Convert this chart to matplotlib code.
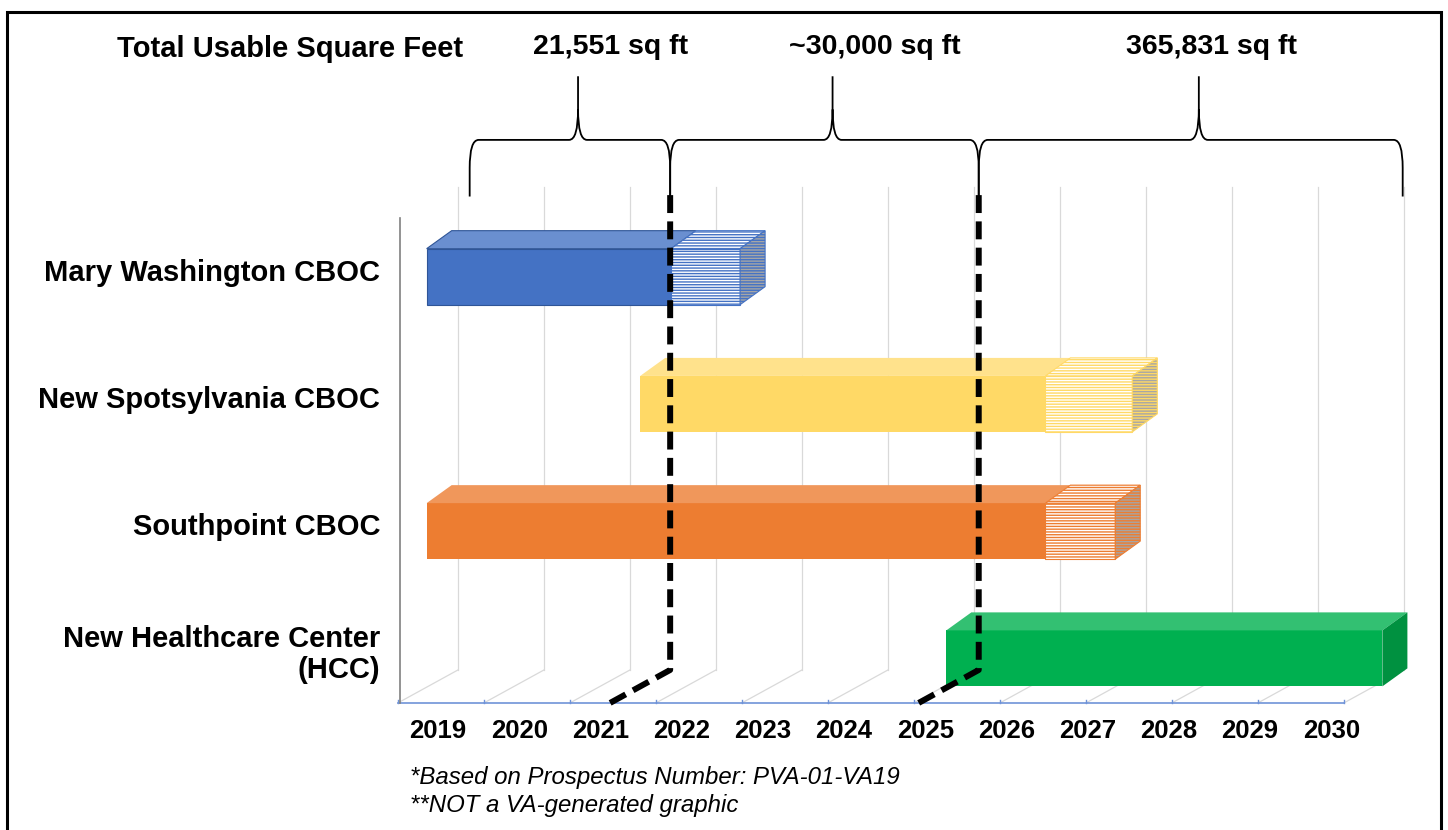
import numpy as np
import matplotlib.pyplot as plt
from matplotlib.patches import Polygon, Rectangle, PathPatch
from matplotlib.path import Path

plt.rcParams['font.family'] = ['Liberation Sans', 'DejaVu Sans']
plt.rcParams['hatch.linewidth'] = 1.0

# 数据：项目及时间段（年份）
projects = ['Mary Washington CBOC', 'New Spotsylvania CBOC', 'Southpoint CBOC',
            'New Healthcare Center\n(HCC)']
start = [2018.86, 2021.49, 2018.86, 2025.26]
solid_end = [2021.87, 2026.48, 2026.48, 2030.63]
hatch_end = [2022.72, 2027.55, 2027.34, 2030.63]
years = list(range(2019, 2031))
milestones = [2021.12, 2024.92]
sqft_labels = ['21,551 sq ft', '~30,000 sq ft', '365,831 sq ft']

# 颜色
front_c = ['#4472C4', '#FFD966', '#ED7D31', '#00B050']
top_c = ['#6A8FD0', '#FFE28C', '#F0975B', '#33C072']
side_c = ['#2F5597', '#BF9F40', '#B05A20', '#009140']
edge_c = ['#2F5597', 'none', 'none', 'none']

fig = plt.figure(figsize=(14.48, 8.30), dpi=100)
ax = fig.add_axes([0, 0, 1, 1])
ax.set_xlim(2013.606, 2031.438)
ax.set_ylim(4.3489, -2.1745)
ax.axis('off')

# 3D 效果的深度
fx, fy = 0.739, -0.259   # 地面深度
bx, by = 0.308, -0.1415  # 条形深度
h = 0.22
floor_y = 3.350
grid_top = -0.705
grid_x = np.linspace(2018.507, 2030.157, 12)

# 背景网格和坐标轴
for gx in grid_x:
    ax.plot([gx, gx + fx], [floor_y, floor_y + fy], color='#D9D9D9', lw=0.9, zorder=1)
    ax.plot([gx + fx, gx + fx], [floor_y + fy, grid_top], color='#D9D9D9', lw=0.9, zorder=1)
    ax.plot([gx, gx], [floor_y, floor_y - 0.025], color='#6F93D8', lw=1, zorder=2)
ax.plot([grid_x[0], grid_x[-1]], [floor_y, floor_y], color='#6F93D8', lw=1.2, zorder=2)
ax.plot([grid_x[0] + 0.025] * 2, [floor_y, -0.461], color='#808080', lw=1.2, zorder=2)


def faces(x0, x1, yc):
    yt, yb = yc - h, yc + h
    front = [(x0, yt), (x1, yt), (x1, yb), (x0, yb)]
    top = [(x0, yt), (x1, yt), (x1 + bx, yt + by), (x0 + bx, yt + by)]
    side = [(x1, yt), (x1 + bx, yt + by), (x1 + bx, yb + by), (x1, yb)]
    return front, top, side


# 绘制条形
for i in range(len(projects)):
    front, top, side = faces(start[i], solid_end[i], i)
    ax.add_patch(Polygon(front, facecolor=front_c[i], edgecolor=edge_c[i], lw=0.8, zorder=3))
    ax.add_patch(Polygon(top, facecolor=top_c[i], edgecolor=edge_c[i], lw=0.8, zorder=3))
    if hatch_end[i] > solid_end[i]:
        front, top, side = faces(solid_end[i], hatch_end[i], i)
        for poly, fc in [(front, 'white'), (top, 'white'), (side, '#A6A6A6')]:
            ax.add_patch(Polygon(poly, facecolor=fc, edgecolor=front_c[i],
                                 hatch='------', lw=0.8, zorder=3))
    else:
        ax.add_patch(Polygon(side, facecolor=side_c[i], edgecolor='none', zorder=3))

# 虚线
for m in milestones:
    ax.plot([m + fx, m + fx, m], [-0.641, floor_y + fy, floor_y], color='black', lw=4.3,
            dashes=(3, 1.4), solid_joinstyle='miter', zorder=6)


# 大括号
def brace(x0, x1, xt, yb=-0.63, yh=-1.075, yt=-1.575, rx=0.11, ry=0.22, cx=0.11, cy=0.24):
    verts = [(x0, yb), (x0, yh + ry), (x0, yh), (x0 + rx, yh),
             (xt - cx, yh), (xt, yh), (xt, yh - cy), (xt, yt),
             (xt, yh - cy), (xt, yh), (xt + cx, yh),
             (x1 - rx, yh), (x1, yh), (x1, yh + ry), (x1, yb)]
    codes = [Path.MOVETO, Path.LINETO, Path.CURVE3, Path.CURVE3,
             Path.LINETO, Path.CURVE3, Path.CURVE3, Path.LINETO,
             Path.MOVETO, Path.CURVE3, Path.CURVE3,
             Path.LINETO, Path.CURVE3, Path.CURVE3, Path.LINETO]
    ax.add_patch(PathPatch(Path(verts, codes), facecolor='none', edgecolor='black', lw=1.3, zorder=5))


edges = [2019.39, milestones[0] + fx, milestones[1] + fx, 2030.88]
for i in range(3):
    brace(edges[i], edges[i + 1], (edges[i] + edges[i + 1]) / 2 + 0.1)

# 文字
label_x = [2021.13, 2024.38, 2028.53]
for x, s in zip(label_x, sqft_labels):
    ax.text(x, -1.805, s, ha='center', va='center', fontsize=20.5, fontweight='bold')
ax.text(2017.177, -1.789, 'Total Usable Square Feet', ha='center', va='center',
        fontsize=21, fontweight='bold')

for i, p in enumerate(projects):
    ax.text(2018.286, i - 0.03, p, ha='right', va='center', fontsize=21, fontweight='bold',
            multialignment='right', linespacing=1.15)

for y in years:
    ax.text(y, 3.572, str(y), ha='center', va='center', fontsize=18.5, fontweight='bold')

ax.text(2018.655, 3.933, '*Based on Prospectus Number: PVA-01-VA19', ha='left', va='center',
        fontsize=17.3, style='italic')
ax.text(2018.655, 4.153, '**NOT a VA-generated graphic', ha='left', va='center',
        fontsize=17.3, style='italic')

# 外框
fig.add_artist(Rectangle((7 / 1448, -0.05), 1434 / 1448, 1.05 - 12 / 830, transform=fig.transFigure,
                         fill=False, edgecolor='black', lw=2.2))

fig.savefig('out.png', dpi=100)
